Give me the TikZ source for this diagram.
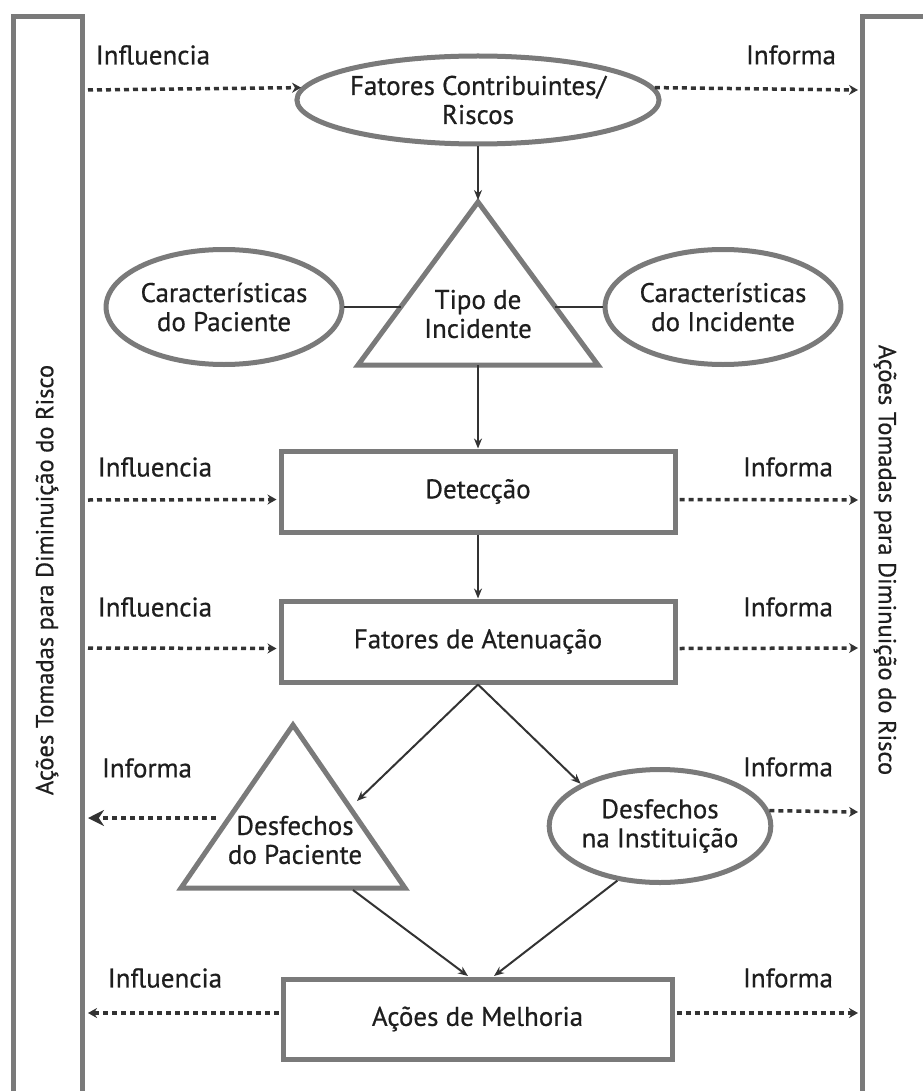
\documentclass[tikz,border=0pt]{standalone}
\usepackage{fontspec}
\setmainfont[FakeBold=0.6]{PT Sans}
\usetikzlibrary{shapes.geometric,arrows.meta,calc}
\definecolor{shapegray}{HTML}{7A7A7A}
\definecolor{linegray}{HTML}{333333}
\definecolor{txt}{HTML}{1E1E1E}
\tikzset{
  outl/.style={draw=shapegray,line width=5pt,line join=miter},
  lbl/.style={text=txt,font=\fontsize{27}{29}\selectfont,align=center,inner sep=0pt},
  sidelbl/.style={text=txt,font=\fontsize{24.5}{29}\selectfont,inner sep=0pt},
  ell/.style={ellipse,outl,lbl},
  boxnode/.style={rectangle,outl,lbl},
  conn/.style={draw=linegray,line width=2pt,-{Stealth[length=10pt,width=8pt]}},
  plainconn/.style={draw=linegray,line width=2pt},
  dots/.style={draw=linegray,line width=3.5pt,dash pattern=on 5pt off 4pt,-{Stealth[length=9pt,width=10pt]}},
  bigdots/.style={draw=linegray,line width=3.5pt,dash pattern=on 5pt off 4pt,-{Stealth[length=16pt,width=16pt]}},
}
\begin{document}
\begin{tikzpicture}[x=1pt,y=-1pt]
\useasboundingbox (0,0) rectangle (922,1091);
% side bars
\draw[outl] (13,1095) -- (13,17) -- (82,17) -- (82,1095);
\draw[outl] (862,1095) -- (862,17) -- (930,17);
\node[sidelbl,rotate=90] (sideL) at (47,580) {Ações Tomadas para Diminuição do Risco};
\node[sidelbl,rotate=-90] (sideR) at (885,560) {Ações Tomadas para Diminuição do Risco};

% nodes
\node[ell,minimum width=352pt,minimum height=88pt] (fcr) at (478,100) {Fatores Contribuintes/\\Riscos};
\draw[outl] (478,202) -- (598,365) -- (358,365) -- cycle;
\coordinate (tA) at (478,200);
\coordinate (tB) at (478,365);
\coordinate (tL) at (401,307);
\coordinate (tR) at (555,307);
\node[lbl] (tipo) at (478,314) {Tipo de\\Incidente};
\node[ell,minimum width=206pt,minimum height=115pt] (cp) at (224,307) {Características\\do Paciente};
\node[ell,minimum width=208pt,minimum height=115pt] (ci) at (723,307) {Características\\do Incidente};
\node[boxnode,minimum width=394pt,minimum height=81pt] (det) at (478,491.5) {Detecção};
\node[boxnode,minimum width=394pt,minimum height=81pt] (aten) at (478,641.5) {Fatores de Atenuação};
\draw[outl] (293,725) -- (405,888) -- (181,888) -- cycle;
\coordinate (dpR) at (357,801);
\coordinate (dpL) at (216,818);
\coordinate (dpB) at (353,890);
\node[lbl] (dp) at (295,840) {Desfechos\\do Paciente};
\node[ell,minimum width=204pt,minimum height=113pt] (di) at (660,826) {Desfechos\\na Instituição};
\node[boxnode,minimum width=389pt,minimum height=80pt] (acoes) at (477.5,1019) {Ações de Melhoria};
\coordinate (aIn1) at (468,976);
\coordinate (aIn2) at (494,976);

% solid connectors
\draw[conn] (fcr.south) -- (tA);
\draw[plainconn] (cp.east) -- (tL);
\draw[plainconn] (ci.west) -- (tR);
\draw[conn] (tB) -- (det.north);
\draw[conn] (det.south) -- (aten.north);
\draw[conn] (aten.south) -- (dpR);
\draw[conn] (aten.south) -- (di.152);
\draw[conn] (dpB) -- (aIn1);
\draw[conn] (di.232) -- (aIn2);

% side coordinates
\coordinate (L1) at (88,90);   \coordinate (R1) at (858,90);
\coordinate (L2) at (88,500);  \coordinate (R2) at (858,500);
\coordinate (L3) at (88,648);  \coordinate (R3) at (858,648);
\coordinate (L4) at (88,818);  \coordinate (R4) at (858,812);
\coordinate (L5) at (88,1013); \coordinate (R5) at (858,1013);

% dotted arrows
\draw[dots] (L1) -- (fcr.176);
\draw[dots] (fcr.4) -- (R1);
\draw[dots] (L2) -- ($(det.west)+(-2,8)$);
\draw[dots] ($(det.east)+(2,8)$) -- (R2);
\draw[dots] (L3) -- ($(aten.west)+(-2,7)$);
\draw[dots] ($(aten.east)+(2,7)$) -- (R3);
\draw[bigdots] (dpL) -- (L4);
\draw[dots] (di.8) -- (R4);
\draw[dots] ($(acoes.west)+(-2,-6)$) -- (L5);
\draw[dots] ($(acoes.east)+(2,-6)$) -- (R5);

% labels
\node[lbl] (i1) at (153,55) {Influencia};
\node[lbl] (o1) at (791,55) {Informa};
\node[lbl] (i2) at (155,467) {Influencia};
\node[lbl] (o2) at (788,467) {Informa};
\node[lbl] (i3) at (155,607) {Influencia};
\node[lbl] (o3) at (788,607) {Informa};
\node[lbl] (o4) at (147,768) {Informa};
\node[lbl] (o5) at (788,767) {Informa};
\node[lbl] (i6) at (165,978) {Influencia};
\node[lbl] (o6) at (788,978) {Informa};
\end{tikzpicture}
\end{document}
